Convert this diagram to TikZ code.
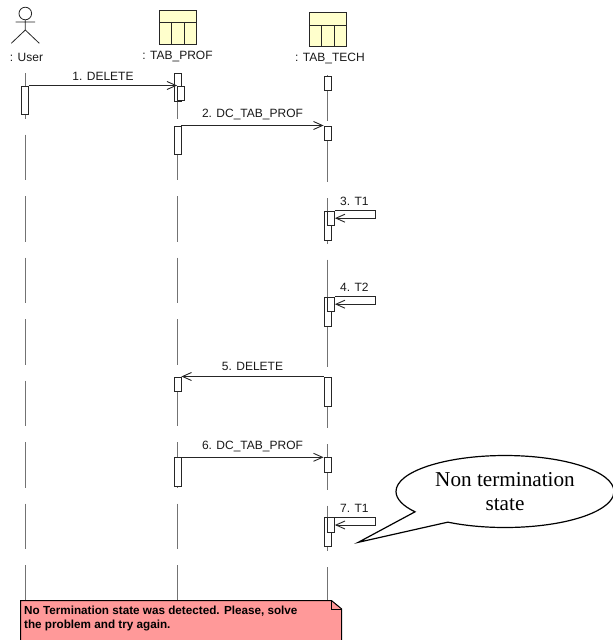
\documentclass[tikz,border=0pt]{standalone}
\usepackage{fontspec}
\setmainfont{Liberation Sans}
\newfontfamily\calloutfont{Liberation Serif}
\usetikzlibrary{arrows.meta,shapes.callouts}
\definecolor{tablefill}{RGB}{255,255,204}
\definecolor{notefill}{RGB}{255,153,153}
\tikzset{
  lifeline/.style={draw=black!55,line width=1pt,dash pattern=on 45.6pt off 15.9pt},
  activation/.style={draw=black!85,fill=white,line width=0.8pt,rectangle,inner sep=0pt,minimum width=7pt},
  msg/.style={draw=black!85,line width=0.9pt,-{Straight Barb[length=9pt,width=8pt]}},
  msglabel/.style={inner sep=0pt,text=black!90},
  objlabel/.style={inner sep=0pt,text=black!90}
}

\begin{document}
\begin{tikzpicture}[x=1pt,y=-1pt,font=\fontsize{12}{14}\selectfont]
    \useasboundingbox (0,0) rectangle (613,640);

    % actor
    \draw[line width=0.8pt,black!85] (25.3,13.5) circle (6.3pt);
    \draw[line width=0.8pt,black!85] (25.3,19.8) -- (25.3,30) (15.6,22) -- (35,22) (11.3,43.3) -- (25.3,30) -- (39.3,43.3);

    % tables
    \foreach \x/\y in {159.5/10,309.5/12.5} {
      \begin{scope}[shift={(\x,\y)}]
        \draw[draw=black!85,fill=tablefill,line width=0.8pt] (0,0) rectangle (36.5,34);
        \draw[black!85,line width=0.8pt] (0,12.5) -- (36.5,12.5) (12,12.5) -- (12,34) (24.5,12.5) -- (24.5,34);
      \end{scope}
    }
    \node[objlabel] (lblUser) at (26.5,57) {: User};
    \node[objlabel] (lblProf) at (177.5,57) {: TAB\_PROF};
    \node[objlabel] (lblTech) at (330,59) {: TAB\_TECH};

    % lifelines
    \coordinate (topUser) at (25,73);
    \coordinate (endUser) at (25,600);
    \coordinate (topProf) at (177.7,73);
    \coordinate (endProf) at (177.7,600);
    \coordinate (topTech) at (327.5,75);
    \coordinate (endTech) at (327.5,600);
    \draw[lifeline] (topUser) -- (endUser);
    \draw[lifeline] (topProf) -- (endProf);
    \draw[lifeline] (topTech) -- (endTech);

    % activations
    \foreach \name/\x/\y/\h in {aUser/25/85.5/28.5,aProfA/177.5/73/28,aProfB/181/85.5/14.5,aTechA/327.5/75.5/14,
        aProfC/177.5/125.5/28.5,aTechB/327.5/125.5/14,
        aTechC/327.5/210.5/29,aTechD/331/210.5/14,
        aTechE/327.5/296.5/29,aTechF/331/296.5/14,
        aTechG/327.5/376.5/29,aProfD/177.5/376.5/14.5,
        aProfE/177.5/457.3/29,aTechH/327.5/457.3/14.3,
        aTechI/327.5/517.3/29,aTechJ/331/517.3/14.3} {
      \node[activation,minimum height=\h pt,anchor=north] (\name) at (\x,\y) {};
    }

    % messages
    \draw[msg] (aUser.north east) -- (aProfB.north west) node[msglabel,midway,above=5pt] {1. DELETE};
    \draw[msg] (aProfC.north east) -- (aTechB.north west) node[msglabel,midway,above=5pt] {2. DC\_TAB\_PROF};
    \draw[msg] (aTechG.north west) -- (aProfD.north east) node[msglabel,midway,above=5pt] {5. DELETE};
    \draw[msg] (aProfE.north east) -- (aTechH.north west) node[msglabel,midway,above=5pt] {6. DC\_TAB\_PROF};
    \foreach \name/\num/\lbl in {aTechD/3/T1,aTechF/4/T2,aTechJ/7/T1} {
      \coordinate (turn\num) at ([shift={(40.5,7.7)}]\name.north east);
      \draw[msg] (\name.north east) -| (turn\num) -- (\name.east |- turn\num);
      \node[msglabel,above=5pt] (lbl\num) at ([xshift=19.5]\name.north east) {\num. \lbl};
    }

    % callout
    \node[ellipse callout,draw=black,fill=white,line width=1.2pt,minimum width=218pt,minimum height=72pt,inner sep=0pt,
      callout absolute pointer={(358.3,542.3)},callout pointer arc=24,align=center,
      font=\calloutfont\fontsize{21.2}{24.5}\selectfont] (bubble) at (505,491.5) {Non termination\\state};

    % note
    \draw[draw=black,fill=notefill,line width=1pt] (20.5,640.5) -- (20.5,600.7) -- (331.7,600.7) -- (341.7,609) -- (341.7,640.5);
    \draw[black,line width=0.7pt] (331.7,600.7) -- (331.7,609) -- (341.7,609);
    \node[anchor=north west,inner sep=0pt,align=left,font=\bfseries\fontsize{11.7}{14}\selectfont] (note) at (24,605.5) {No Termination state was detected. Please, solve\\the problem and try again.};
\end{tikzpicture}
\end{document}
